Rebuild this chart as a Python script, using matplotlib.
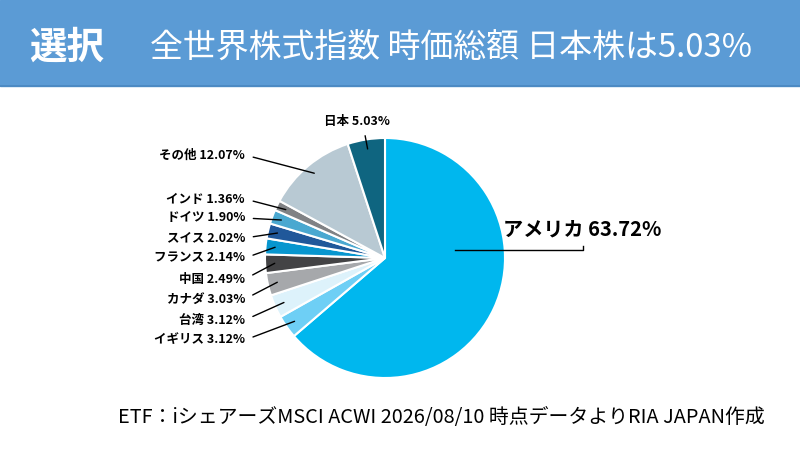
import numpy as np
import matplotlib.pyplot as plt
from matplotlib.patches import Rectangle

plt.rcParams['font.family'] = ['Noto Sans CJK JP', 'DejaVu Sans']

# data (clockwise from 12 o'clock)
countries = ["アメリカ", "イギリス", "台湾", "カナダ", "中国", "フランス",
             "スイス", "ドイツ", "インド", "その他", "日本"]
shares = [63.72, 3.12, 3.12, 3.03, 2.49, 2.14, 2.02, 1.90, 1.36, 12.07, 5.03]
colors = ["#00b7ee", "#6ecff5", "#ddf2fb", "#a6a8ab", "#434345", "#0796cf",
          "#20589a", "#4aa8d0", "#808285", "#b8c9d3", "#0f6580"]

W, H = 800, 450
fig = plt.figure(figsize=(8, 4.5), dpi=100)
ax = fig.add_axes([0, 0, 1, 1])

def py(y):
    # pixel y (from top) -> data y
    return H - y

# header band
ax.add_patch(Rectangle((0, py(86)), W, 86, color="#5b9bd5", zorder=0))
ax.plot([0, W], [py(86), py(86)], color="#4a87c0", lw=1.2, zorder=1)
ax.text(29, py(47), "選択", color="white", fontsize=27, fontweight="bold",
        ha="left", va="center")
ax.text(150, py(48), "全世界株式指数 時価総額 日本株は5.03%", color="white",
        fontsize=23.7, ha="left", va="center")

# pie
cx, cy, R = 385, py(258), 120
wedges, _ = ax.pie(shares, colors=colors, startangle=90, counterclock=False,
                   center=(cx, cy), radius=R,
                   wedgeprops=dict(edgecolor="white", linewidth=1.5))

# labels for small slices
label_pos = {
    "イギリス": (245, 340), "台湾": (245, 320), "カナダ": (245, 299),
    "中国": (245, 279), "フランス": (245, 258), "スイス": (245, 238),
    "ドイツ": (245, 218), "インド": (245, 199), "その他": (245, 155),
    "日本": (357, 121),
}
cum = np.cumsum([0] + shares[:-1])
for name, val, start in zip(countries, shares, cum):
    mid = 90 - 360 * (start + val / 2) / 100
    if name == "アメリカ":
        continue
    r = 0.92 * R
    ax_x = cx + r * np.cos(np.radians(mid))
    ax_y = cy + r * np.sin(np.radians(mid))
    tx, ty = label_pos[name]
    if name == "日本":
        ha, rel = "center", (0.6, 0.0)
    else:
        ha, rel = "right", (1.0, 0.5)
    ax.annotate(f"{name} {val:.2f}%", xy=(ax_x, ax_y), xytext=(tx, py(ty)),
                ha=ha, va="center", fontsize=9, fontweight="bold",
                arrowprops=dict(arrowstyle="-", color="black", lw=1,
                                relpos=rel, shrinkA=4, shrinkB=0))

# America label
ax.plot([cx + 0.58 * R, 583, 583], [py(250), py(250), py(246)],
        color="black", lw=1)
ax.text(503, py(229), f"{countries[0]} {shares[0]:.2f}%", fontsize=14.5,
        fontweight="bold", ha="left", va="center")

# footer
ax.text(118, py(417), "ETF：iシェアーズMSCI ACWI 2026/08/10 時点データよりRIA JAPAN作成",
        fontsize=14.3, ha="left", va="center")

ax.set_xlim(0, W)
ax.set_ylim(0, H)
ax.axis("off")
fig.savefig("out.png", dpi=100)
